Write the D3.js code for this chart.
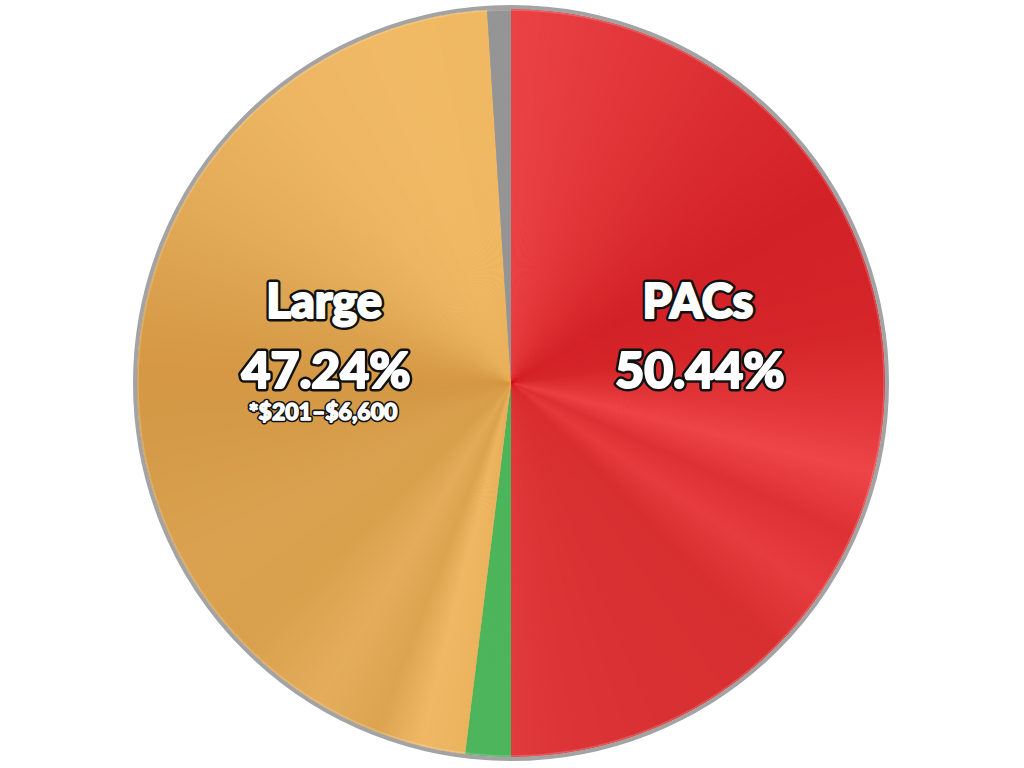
<!DOCTYPE html>
<meta charset="utf-8">
<style>
body { margin: 0; background: #fff; }
.lbl { font-family: Lato, "Open Sans", sans-serif; font-weight: 900; text-anchor: middle; stroke-linejoin: round; }
.lbl.back { fill: #111; stroke: #111; }
.lbl.front { fill: #fff; stroke: #fff; }
</style>
<body>
<script src="https://d3js.org/d3.v7.min.js"></script>
<script>

// slice shares as drawn (clockwise from 12 o'clock)
var categories = ["PACs", "Small", "Large", "Other"];
var shares = [50.0, 1.96, 47.02, 1.02];
var pctLabels = ["50.44%", null, "47.24%", null];
var subLabels = [null, null, "*$201\u2013$6,600", null];

var width = 1024, height = 768;
var cx = 511, cy = 383, radius = 374;

// angular sheen per slice: [degrees, colour]
var sheen = {
  PACs: [[0, "#ea4245"], [15, "#e43a3d"], [40, "#da2c30"], [60, "#d22228"], [82, "#d5262a"],
         [96, "#e3383b"], [104, "#ee4548"], [114, "#dd3135"], [124, "#e63c3f"], [135, "#d82f31"],
         [155, "#d93133"], [172, "#dd3537"], [180, "#e23b3d"]],
  Small: [[180, "#4db55b"], [190, "#4db55b"]],
  Large: [[187, "#eab35e"], [194, "#f0b865"], [201, "#dca450"], [211, "#e4ad5c"], [225, "#d9a14d"],
          [242, "#daa150"], [262, "#d49a47"], [272, "#d59845"], [288, "#dca24f"], [305, "#e6ae5b"],
          [322, "#edb663"], [340, "#f0b965"], [357, "#efb862"]],
  Other: [[356, "#959595"], [360, "#959595"]]
};

var svg = d3.select("body").append("svg")
    .attr("width", width)
    .attr("height", height);

var g = svg.append("g").attr("transform", "translate(" + cx + "," + cy + ")");

var pie = d3.pie().sort(null).value(function(d) { return d; });
var arcs = pie(shares);
var arc = d3.arc().innerRadius(0).outerRadius(radius);

var deg = 180 / Math.PI;

arcs.forEach(function(a, i) {
  var stops = sheen[categories[i]];
  var col = d3.scaleLinear()
      .domain(stops.map(function(s) { return s[0]; }))
      .range(stops.map(function(s) { return s[1]; }))
      .interpolate(d3.interpolateRgb)
      .clamp(true);
  // base fill so no white shows through the seams
  g.append("path")
      .attr("d", arc(a))
      .attr("fill", col((a.startAngle + a.endAngle) / 2 * deg));
  var n = Math.max(2, Math.ceil((a.endAngle - a.startAngle) * deg * 2));
  var step = (a.endAngle - a.startAngle) / n;
  var pieces = d3.range(n).map(function(k) {
    return { startAngle: a.startAngle + k * step,
             endAngle: Math.min(a.endAngle, a.startAngle + (k + 1) * step + 0.003),
             mid: (a.startAngle + (k + 0.5) * step) * deg };
  });
  g.append("g").selectAll("path")
    .data(pieces)
    .enter().append("path")
      .attr("d", arc)
      .attr("fill", function(d) { return col(d.mid); });
});

// rim
g.append("circle")
    .attr("r", radius - 1)
    .attr("fill", "none")
    .attr("stroke", "#fff")
    .attr("stroke-opacity", 0.18)
    .attr("stroke-width", 1.5);
g.append("circle")
    .attr("r", radius + 2)
    .attr("fill", "none")
    .attr("stroke", "#a3a3a3")
    .attr("stroke-width", 4);

function label(x, y, size, txt, outline) {
  g.append("text").attr("class", "lbl back")
      .attr("x", x).attr("y", y)
      .style("font-size", size + "px")
      .style("stroke-width", outline + "px")
      .text(txt);
  g.append("text").attr("class", "lbl front")
      .attr("x", x).attr("y", y)
      .style("font-size", size + "px")
      .style("stroke-width", (outline * 0.3) + "px")
      .text(txt);
}

// labels
var labelPos = d3.arc().innerRadius(radius * 0.5).outerRadius(radius * 0.5);
arcs.forEach(function(a, i) {
  if (!pctLabels[i]) return;
  var c = labelPos.centroid(a);
  label(c[0], -65, 47, categories[i], 7);
  label(c[0] + 2, 5, 50, pctLabels[i], 7);
  if (subLabels[i]) label(c[0] - 1, 37, 23, subLabels[i], 4.5);
});

</script>
</body>
